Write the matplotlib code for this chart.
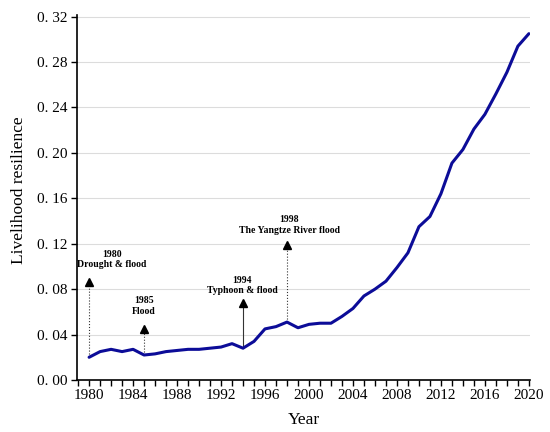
import matplotlib
matplotlib.use("Agg")
import matplotlib.pyplot as plt
from matplotlib.ticker import MultipleLocator, FuncFormatter

years = list(range(1980, 2021))
resilience = [0.020, 0.025, 0.027, 0.025, 0.027, 0.022, 0.023, 0.025, 0.026, 0.027,
              0.027, 0.028, 0.029, 0.032, 0.028, 0.034, 0.045, 0.047, 0.051, 0.046,
              0.049, 0.050, 0.050, 0.056, 0.063, 0.074, 0.080, 0.087, 0.099, 0.112,
              0.135, 0.144, 0.164, 0.191, 0.203, 0.221, 0.234, 0.252, 0.271, 0.294,
              0.305]

event_years = [1980, 1985, 1994, 1998]
event_labels = ["1980\nDrought & flood", "1985\nFlood", "1994\nTyphoon & flood",
                "1998\nThe Yangtze River flood"]
event_tips = [0.0905, 0.0485, 0.072, 0.123]
event_text_x = [1982.05, 1985.0, 1993.93, 1998.23]
event_text_y = [0.0975, 0.0565, 0.0745, 0.128]
event_styles = [":", ":", "-", ":"]

plt.rcParams['font.family'] = ['Liberation Serif', 'DejaVu Serif']

fig = plt.figure(figsize=(5.5, 4.32), dpi=100)
ax = fig.add_axes([0.14, 0.1204, 0.8236, 0.845])

ax.set_xlim(1978.9, 2020.1)
ax.set_ylim(0, 0.3215)
ax.yaxis.set_major_locator(MultipleLocator(0.04))
ax.xaxis.set_major_locator(MultipleLocator(4))
ax.xaxis.set_minor_locator(MultipleLocator(1))
ax.yaxis.set_major_formatter(FuncFormatter(lambda v, p: ("%.2f" % v).replace(".", ". ")))
ax.grid(axis='y', color='#dcdcdc', lw=0.8)
ax.set_axisbelow(True)

for s in ['top', 'right']:
    ax.spines[s].set_visible(False)
for s in ['left', 'bottom']:
    ax.spines[s].set_linewidth(1.2)
    ax.spines[s].set_color('black')

ax.tick_params(axis='both', which='both', direction='out', length=4.5, width=1.0,
               labelsize=11, pad=2)
ax.tick_params(axis='x', which='minor', length=4.5)

ax.plot(years, resilience, color='#0c0c98', lw=2.2, solid_joinstyle='round',
        solid_capstyle='round', zorder=3)

for yr, lab, tip, tx, ty, ls in zip(event_years, event_labels, event_tips,
                                     event_text_x, event_text_y, event_styles):
    base = resilience[years.index(yr)]
    ax.plot([yr, yr], [base, tip - 0.004], color='#333333', lw=0.8, ls=ls, zorder=2)
    ax.plot([yr], [tip - 0.004], marker='^', color='black', markersize=5.5,
            zorder=4, lw=0)
    ax.text(tx, ty, lab, ha='center', va='bottom', fontsize=7, fontweight='bold',
            linespacing=1.25)

ax.set_xlabel("Year", fontsize=12.5, labelpad=7)
ax.set_ylabel("Livelihood resilience", fontsize=12.5)
ax.yaxis.set_label_coords(-0.11, 0.52)

fig.savefig("out.png", dpi=100)
